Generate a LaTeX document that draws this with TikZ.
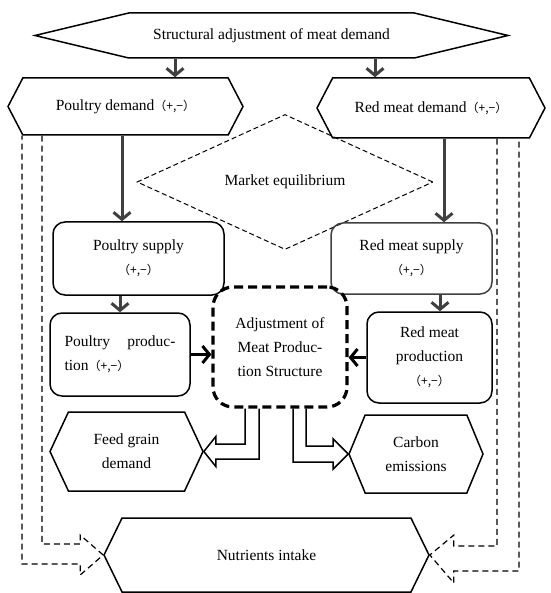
\documentclass[tikz,border=0pt]{standalone}
\usepackage{fontspec}
\setmainfont{Liberation Serif}
\newfontfamily\cjk{Noto Sans CJK SC}
\usetikzlibrary{arrows.meta, shapes.geometric, shapes.symbols, calc}
\definecolor{arrgray}{RGB}{64, 64, 64}
\newcommand{\signs}{{\cjk\fontsize{12}{14}\selectfont （+,−）}}

\begin{document}
\begin{tikzpicture}[x=1pt, y=-1pt,
        every node/.style={font=\fontsize{15.5}{24}\selectfont, align=center},
        hexa/.style={signal, signal to=east and west, draw, line width=1.5pt, inner sep=0pt},
        box/.style={draw, rounded corners=12pt, line width=1.5pt, inner sep=0pt},
        adjbox/.style={draw, rounded corners=20pt, line width=3.2pt, dash pattern=on 9pt off 5pt, inner sep=0pt},
        market/.style={diamond, draw, line width=1pt, dash pattern=on 5pt off 3pt, inner sep=0pt},
        arr/.style={-{Straight Barb[length=7pt, width=17pt]}, line width=3pt, draw=arrgray},
        hollow/.style={line width=1.5pt, line join=miter},
        dhollow/.style={line width=1.2pt, dash pattern=on 6pt off 4pt}
      ]
        \fill[white] (0,0) rectangle (550,593);
        \useasboundingbox (0,0) rectangle (550,593);
        % demand side
        \node[hexa, minimum width=473pt, minimum height=45pt, signal pointer angle=27] (top) at (271.5,35.5) {Structural adjustment of meat demand};
        \node[hexa, minimum width=235pt, minimum height=57pt, signal pointer angle=125] (pdem) at (125.5,106.5) {Poultry demand\signs};
        \node[hexa, minimum width=228pt, minimum height=60pt, signal pointer angle=125] (rdem) at (431,108) {Red meat demand\signs};
        \node[market, minimum width=296pt, minimum height=90pt] (mkt) at (285,182) {Market equilibrium};
        % supply and production
        \node[box, minimum width=171pt, minimum height=73pt] (psup) at (138.5,258.5) {Poultry supply\\\signs};
        \node[box, draw=arrgray, minimum width=161pt, minimum height=71pt] (rsup) at (411.5,258.5) {Red meat supply\\\signs};
        \node[box, minimum width=140pt, minimum height=83pt, text width=111pt, align=left] (pprod) at (120,354.5) {Poultry\hfill produc-\\tion\signs};
        \node[adjbox, minimum width=134pt, minimum height=120pt] (adj) at (280,347) {Adjustment of\\Meat Produc-\\tion Structure};
        \node[box, minimum width=125pt, minimum height=91pt] (rprod) at (429.5,357.5) {Red meat\\production\\\signs};
        % outcomes
        \node[hexa, minimum width=153pt, minimum height=79pt, signal pointer angle=130] (feed) at (126.5,451.5) {Feed grain\\demand};
        \node[hexa, minimum width=134pt, minimum height=78pt, signal pointer angle=135] (carbon) at (416,454) {Carbon\\emissions};
        \node[hexa, minimum width=325pt, minimum height=74pt, signal pointer angle=128] (nutr) at (266.5,555) {Nutrients intake};

        \draw[arr] ([xshift=-96.5pt]top.south) -- ([xshift=49.5pt]pdem.north);
        \draw[arr] ([xshift=103.5pt]top.south) -- ([xshift=-56pt]rdem.north);
        \draw[arr] ([xshift=-3.5pt]pdem.south) -- ([xshift=-16.5pt]psup.north);
        \draw[arr] ([xshift=13pt]rdem.south) -- ([xshift=32.5pt]rsup.north);
        \draw[arr] ([xshift=-18.5pt]psup.south) -- (pprod.north);
        \draw[arr] ([xshift=28.5pt]rsup.south) -- ([xshift=10.5pt]rprod.north);
        \draw[arr, draw=black] (pprod.east) -- (pprod.east -| adj.west);
        \draw[arr, draw=black] (rprod.west) -- (rprod.west -| adj.east);

        % hollow arrows
        \draw[hollow] ($(adj.south)+(-35,0)$) |- ($(feed.east)+(12,-7.5)$) -- ++(0,-7.5) -- (feed.east)
            -- ++(12,15) -- ++(0,-7.5) -| ($(adj.south)+(-21,0)$);
        \draw[hollow] ($(adj.south)+(13,0)$) |- ($(carbon.west)+(-15,8)$) -- ++(0,7) -- (carbon.west)
            -- ++(-15,-15) -- ++(0,7) -| ($(adj.south)+(26,0)$);
        \draw[dhollow] ($(pdem.south)+(-83.5,0)$) |- ($(nutr.west)+(-23,-11)$) -- ++(0,-9) -- (nutr.west)
            -- ++(-23,20) -- ++(0,-11) -| ($(pdem.south)+(-103.5,0)$);
        \draw[dhollow] ($(rdem.south)+(66,0)$) |- ($(nutr.east)+(24,-9)$) -- ++(0,-11) -- (nutr.east)
            -- ++(24,28) -- ++(0,-12) -| ($(rdem.south)+(88,0)$);
      \end{tikzpicture}
\end{document}
